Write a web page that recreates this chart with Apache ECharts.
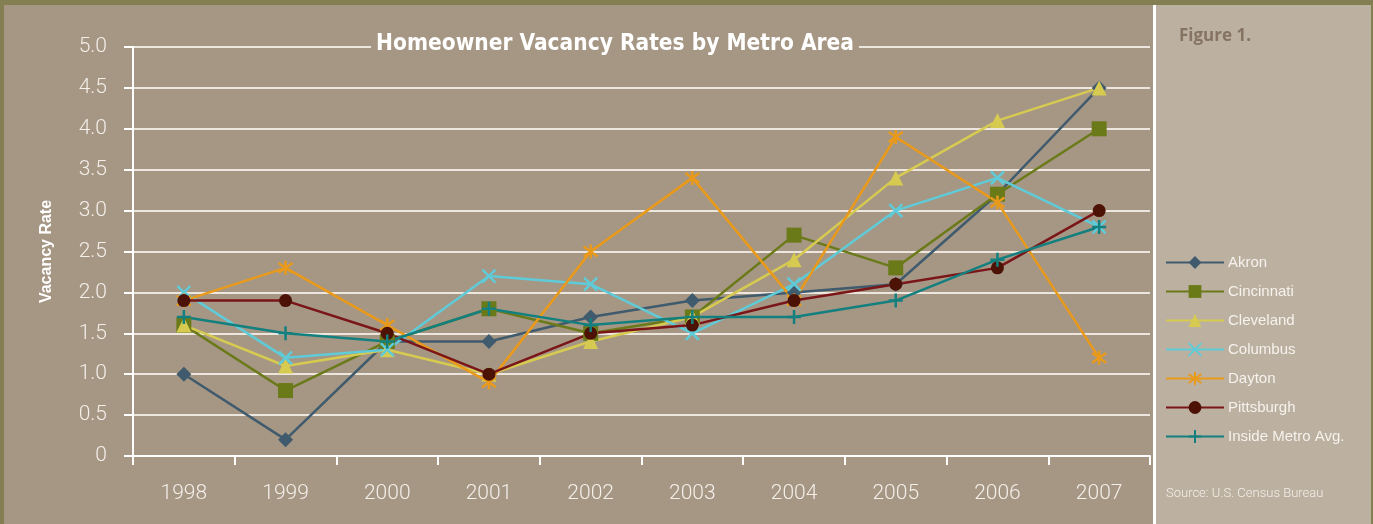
<!DOCTYPE html>
<html>
<head>
<meta charset="utf-8">
<script src="https://cdn.jsdelivr.net/npm/echarts@6/dist/echarts.min.js"></script>
<style>
  html, body { margin: 0; padding: 0; background: #847f52; }
  #chart { width: 1373px; height: 524px; }
</style>
</head>
<body>
<div id="chart"></div>
<script>
const years = ["1998", "1999", "2000", "2001", "2002", "2003", "2004", "2005", "2006", "2007"];
const akron = [1.0, 0.2, 1.4, 1.4, 1.7, 1.9, 2.0, 2.1, 3.2, 4.5];
const cincinnati = [1.6, 0.8, 1.4, 1.8, 1.5, 1.7, 2.7, 2.3, 3.2, 4.0];
const cleveland = [1.6, 1.1, 1.3, 1.0, 1.4, 1.7, 2.4, 3.4, 4.1, 4.5];
const columbus = [2.0, 1.2, 1.3, 2.2, 2.1, 1.5, 2.1, 3.0, 3.4, 2.8];
const dayton = [1.9, 2.3, 1.6, 0.9, 2.5, 3.4, 1.9, 3.9, 3.1, 1.2];
const pittsburgh = [1.9, 1.9, 1.5, 1.0, 1.5, 1.6, 1.9, 2.1, 2.3, 3.0];
const insideMetro = [1.7, 1.5, 1.4, 1.8, 1.6, 1.7, 1.7, 1.9, 2.4, 2.8];

const panelBg = "#a69684";
const sideBg = "#bcb0a0";
const lightFont = "Roboto, sans-serif";
const boldFont = "'DejaVu Sans Condensed', sans-serif";

let myChart = echarts.init(document.getElementById("chart"));

function line(name, data, color, symbol, size, extra) {
  let s = {
    name: name,
    type: "line",
    data: data,
    symbol: symbol,
    symbolSize: size,
    showAllSymbol: true,
    lineStyle: { color: color, width: 2.5 },
    itemStyle: { color: color },
    z: 3,
  };
  return Object.assign(s, extra || {});
}

// stroked shapes for the cross style markers
const xPath = "path://M0,0L10,10M10,0L0,10";
const starPath = "path://M0,1.5L10,8.5M10,1.5L0,8.5M5,0L5,10";
const plusPath = "path://M5,0L5,10M0,5L10,5";

let option = {
  backgroundColor: "#847f52",
  animation: false,
  graphic: [
    { type: "rect", shape: { x: 4, y: 5, width: 1149, height: 519 }, style: { fill: panelBg }, z: -10 },
    { type: "rect", shape: { x: 1153, y: 5, width: 3, height: 519 }, style: { fill: "#ffffff" }, z: -10 },
    { type: "rect", shape: { x: 1156, y: 5, width: 215, height: 519 }, style: { fill: sideBg }, z: -10 },
    {
      type: "text", left: 1179, top: 28, z: 5,
      style: { text: "Figure 1.", fill: "#857462", font: "bold 17px 'Open Sans', sans-serif" },
    },
    {
      type: "text", left: 1166, top: 487, z: 5,
      style: { text: "Source: U.S. Census Bureau", fill: "#f3efe9", font: "300 13px " + lightFont },
    },
  ],
  title: {
    text: "Homeowner Vacancy Rates by Metro Area",
    left: 610,
    textAlign: "center",
    top: 31,
    backgroundColor: panelBg,
    padding: [2, 5],
    textStyle: {
      color: "#ffffff",
      fontFamily: boldFont,
      fontWeight: "bold",
      fontSize: 22.5,
    },
  },
  legend: {
    orient: "vertical",
    left: 1160,
    top: 250,
    itemWidth: 58,
    itemHeight: 16,
    itemGap: 14,
    textStyle: { color: "#f6f2ed", fontSize: 15, fontFamily: "'Liberation Sans', Arial, sans-serif", padding: [0, 0, 0, -1] },
  },
  grid: { left: 133, right: 223, top: 47, bottom: 68 },
  xAxis: {
    type: "category",
    data: years,
    boundaryGap: true,
    axisLine: { lineStyle: { color: "#ffffff", width: 2 } },
    axisTick: { show: true, length: 9, lineStyle: { color: "#ffffff", width: 2 } },
    axisLabel: { color: "#f3efe9", fontSize: 21, fontFamily: lightFont, fontWeight: 300, margin: 27 },
    splitLine: { show: false },
  },
  yAxis: {
    type: "value",
    min: 0,
    max: 5,
    interval: 0.5,
    name: "Vacancy Rate",
    nameLocation: "middle",
    nameRotate: 90,
    nameGap: 78,
    nameTextStyle: { color: "#ffffff", fontWeight: "bold", fontSize: 16, fontFamily: "'Liberation Sans', Arial, sans-serif" },
    axisLine: { show: true, lineStyle: { color: "#ffffff", width: 2 } },
    axisTick: { show: true, inside: false, length: 9, lineStyle: { color: "#ffffff", width: 2 } },
    axisLabel: {
      color: "#f3efe9",
      fontSize: 21,
      fontFamily: lightFont,
      fontWeight: 300,
      margin: 26,
      formatter: (v) => (v === 0 ? "0" : v.toFixed(1)),
    },
    splitLine: { show: true, lineStyle: { color: "#ece6de", width: 2 } },
  },
  series: [
    line("Akron", akron, "#3f5b6d", "diamond", 15),
    line("Cincinnati", cincinnati, "#6b7a18", "rect", 15),
    line("Cleveland", cleveland, "#d6cb50", "triangle", 15),
    line("Columbus", columbus, "#5fcbd8", xPath, 13, {
      itemStyle: { color: "rgba(0,0,0,0)", borderColor: "#5fcbd8", borderWidth: 2.5 },
    }),
    line("Dayton", dayton, "#e99a1b", starPath, 14, {
      itemStyle: { color: "rgba(0,0,0,0)", borderColor: "#e99a1b", borderWidth: 2.5 },
    }),
    line("Pittsburgh", pittsburgh, "#7a1518", "circle", 13, {
      itemStyle: { color: "#4c1206" },
    }),
    line("Inside Metro Avg.", insideMetro, "#13807f", plusPath, 14, {
      itemStyle: { color: "rgba(0,0,0,0)", borderColor: "#13807f", borderWidth: 2.5 },
    }),
  ],
};

myChart.setOption(option);
</script>
</body>
</html>
